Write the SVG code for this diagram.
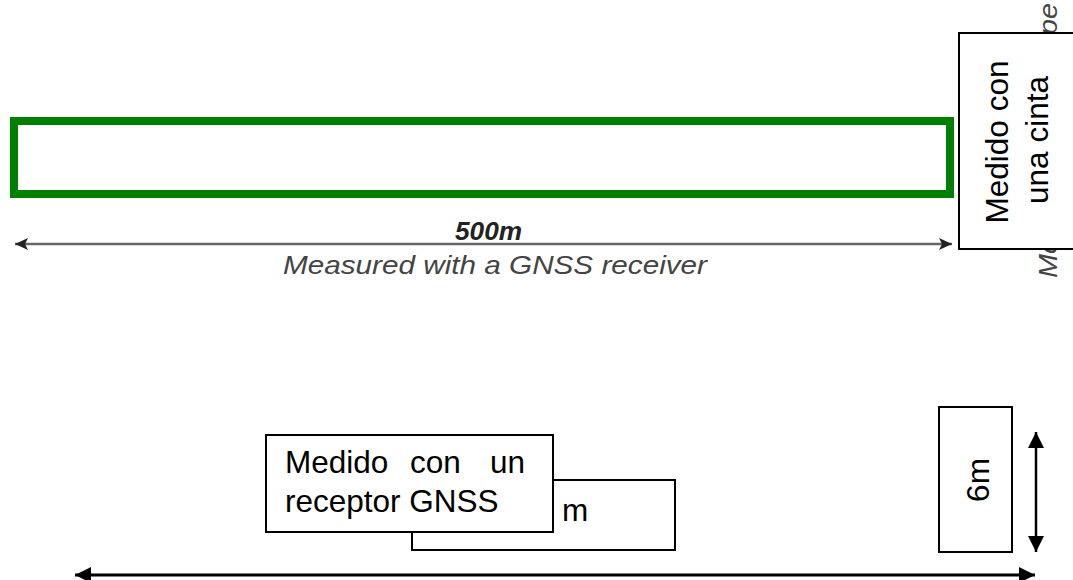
<svg xmlns="http://www.w3.org/2000/svg" width="1073" height="580" viewBox="0 0 1073 580">
<style>
.box{fill:#fff;stroke:#000;stroke-width:2}
.t{font-family:"Liberation Sans",Arial,sans-serif;font-size:31.5px;fill:#000}
.gi{font-family:"Liberation Sans",Arial,sans-serif;font-size:25px;font-style:italic;fill:#444}
</style>
<defs>
<marker id="ga" markerUnits="userSpaceOnUse" markerWidth="14" markerHeight="12" refX="13" refY="6" orient="auto-start-reverse">
<path d="M0,0 L13,6 L0,12 L3,6 z" fill="#222"/>
</marker>
<marker id="ba" markerUnits="userSpaceOnUse" markerWidth="17" markerHeight="16" refX="16" refY="8" orient="auto-start-reverse">
<path d="M0,0 L16,8 L0,16 z" fill="#000"/>
</marker>
</defs>
<g id="field">
<rect x="14" y="121" width="936" height="73" fill="none" stroke="#008000" stroke-width="8"/>
</g>
<g id="label-500m">
<text x="455" y="240" font-family="Liberation Sans,Arial,sans-serif" font-size="25" font-weight="bold" font-style="italic" fill="#222" textLength="67" lengthAdjust="spacingAndGlyphs">500m</text>
<text class="gi" x="283" y="274" textLength="424" lengthAdjust="spacingAndGlyphs">Measured with a GNSS receiver</text>
</g>
<g id="label-tape">
<text class="gi" transform="translate(1057,278) rotate(-90)" textLength="275" lengthAdjust="spacingAndGlyphs">Measured with a tape</text>
</g>
<g id="connectors">
<line x1="15" y1="244" x2="952" y2="244" stroke="#666" stroke-width="2.5" marker-start="url(#ga)" marker-end="url(#ga)"/>
<line x1="1036" y1="432" x2="1036" y2="552" stroke="#000" stroke-width="2.5" marker-start="url(#ba)" marker-end="url(#ba)"/>
<line x1="75" y1="575" x2="1035" y2="575" stroke="#000" stroke-width="3" marker-start="url(#ba)" marker-end="url(#ba)"/>
</g>
<g id="box-cinta">
<rect class="box" x="959" y="33" width="130" height="216"/>
<text class="t" text-anchor="middle" transform="translate(1008,142) rotate(-90)">Medido con</text>
<text class="t" text-anchor="middle" transform="translate(1048,140) rotate(-90)">una cinta</text>
</g>
<g id="box-m">
<rect class="box" x="412" y="480" width="263" height="70"/>
<text class="t" x="562" y="521">m</text>
</g>
<g id="box-gnss">
<rect class="box" x="266" y="435" width="287" height="97"/>
<text class="t" y="473"><tspan x="285">Medido</tspan><tspan x="410">con</tspan><tspan x="490">un</tspan></text>
<text class="t" x="285" y="512">receptor GNSS</text>
</g>
<g id="box-6m">
<rect class="box" x="939" y="407" width="73" height="145"/>
<text class="t" text-anchor="middle" transform="translate(989,480) rotate(-90)">6m</text>
</g>
</svg>
